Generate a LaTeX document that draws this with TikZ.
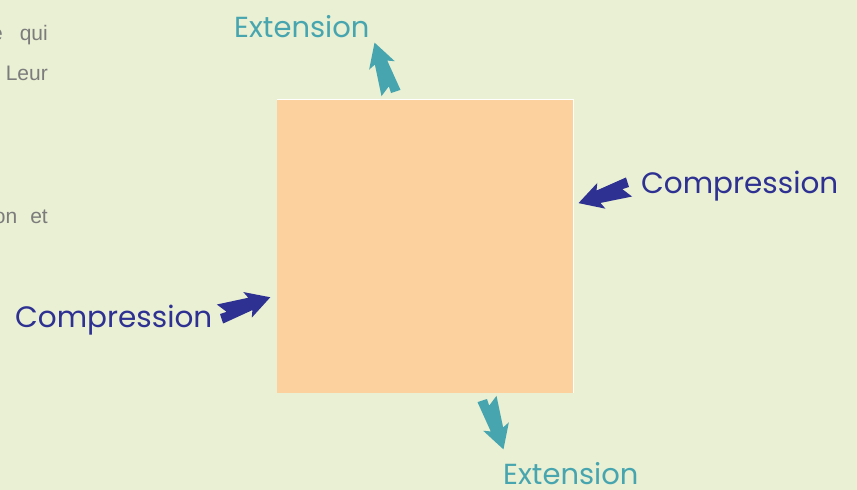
\documentclass[tikz,border=0pt]{standalone}
\usepackage{fontspec}
\setmainfont{Liberation Sans}
\newfontfamily\labelfont{Poppins}
\definecolor{bgcol}{HTML}{E9F0D3}
\definecolor{boxcol}{HTML}{FDD19E}
\definecolor{tealcol}{HTML}{47A5AF}
\definecolor{navycol}{HTML}{2E3192}
\definecolor{bodygray}{HTML}{7C7C7C}
\tikzset{
  x=1pt, y=-1pt,
  fatarrow/.pic={
    \fill (0,0) -- (0,10) -- (32,6.5) -- (29,13.5) -- (53,0)
          -- (29,-13.5) -- (32,-6.5) -- (0,-10) -- (7,0) -- cycle;
  },
  extlabel/.style={font=\labelfont\fontsize{29}{31}\selectfont, text=tealcol, inner sep=0pt},
  complabel/.style={font=\labelfont\fontsize{29.5}{31}\selectfont, text=navycol, inner sep=0pt},
  bodytext/.style={font=\fontsize{21}{24}\selectfont, text=bodygray, inner sep=0pt, anchor=base east},
}
\begin{document}
\begin{tikzpicture}
  \useasboundingbox (0,0) rectangle (857,490);
  \clip (0,0) rectangle (857,490);
  \fill[bgcol] (0,0) rectangle (857,490);

  % running text cut by the left margin
  \node[bodytext] (l1) at (48,40) {e\hspace{17pt}qui};
  \node[bodytext] (l2) at (48,80) {Leur};
  \node[bodytext] (l3) at (48,223) {on\hspace{13pt}et};

  % the deformed block
  \fill[boxcol] (277,99) rectangle (574,393);
  \draw[white, line width=1.5pt] (277,99.5) -- (573.5,99.5) -- (573.5,393);
  \coordinate (block) at (425.5,246);

  % stress arrows
  \pic[tealcol, rotate=108.1] at (391,93) {fatarrow};
  \pic[tealcol, rotate=-71.9] at (487,399) {fatarrow};
  \pic[navycol, rotate=197.7] at (629,187) {fatarrow};
  \pic[navycol, rotate=18.4] at (220,314) {fatarrow};

  % labels
  \node[extlabel, anchor=base west] (ext1) at (234,37) {Extension};
  \node[extlabel, anchor=base west] (ext2) at (503,484) {Extension};
  \node[complabel, anchor=base west] (comp1) at (641,193) {Compression};
  \node[complabel, anchor=base west] (comp2) at (15,327) {Compression};
\end{tikzpicture}
\end{document}
